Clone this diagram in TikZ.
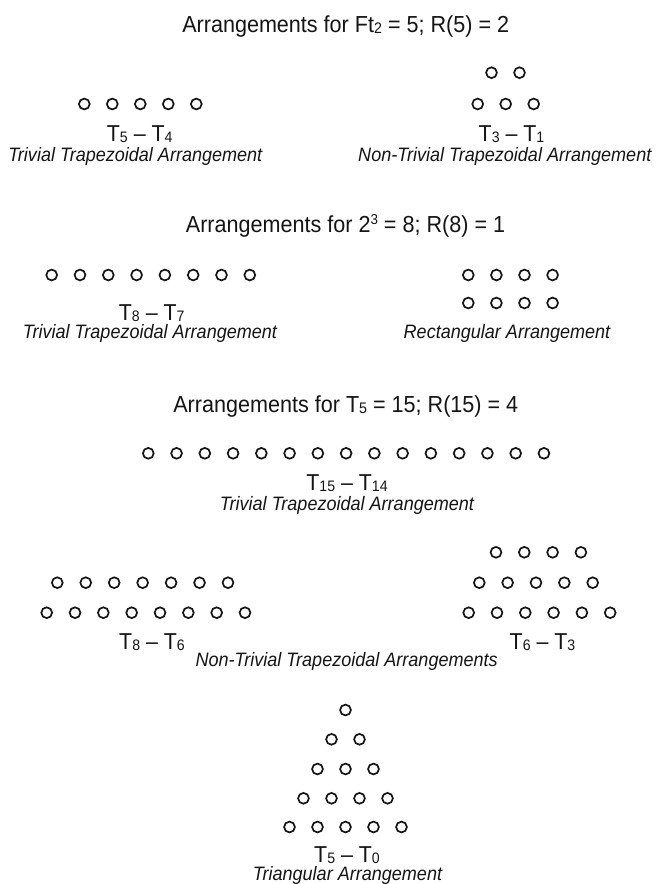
\documentclass[tikz,border=0pt]{standalone}
\usepackage{fontspec}
\setmainfont{Liberation Sans}[FakeStretch=0.93]
\definecolor{ink}{HTML}{151515}
\newcommand\lowd[1]{\raisebox{-1.4pt}{\scalebox{0.66}{#1}}}
\newcommand\highd[1]{\raisebox{7.6pt}{\scalebox{0.62}{#1}}}
\begin{document}
\begin{tikzpicture}[x=1pt,y=-1pt,
  pebble/.style={circle,draw=ink,line width=1.7pt,inner sep=0pt,minimum size=10.8pt},
  ttl/.style={anchor=base,inner sep=0pt,font=\fontsize{23.2}{26}\selectfont,text=ink},
  lbl/.style={anchor=base,inner sep=0pt,font=\fontsize{23}{26}\selectfont,text=ink},
  desc/.style={anchor=base,inner sep=0pt,font=\fontsize{19.4}{22}\selectfont\itshape,text=ink}]
\fill[white] (0,0) rectangle (657,884);
\useasboundingbox (0,0) rectangle (657,884);

% ---------- Section 1 ----------
\node[ttl] (t1) at (345.7,32) {Arrangements for Ft\lowd{2} = 5; R(5) = 2};
\foreach \k in {0,...,4} \node[pebble] (sa\k) at ({84.3+28*\k},104) {};
\foreach \k in {0,1} \node[pebble] (sb\k) at ({491.5+28*\k},72.7) {};
\foreach \k in {0,...,2} \node[pebble] (sc\k) at ({477.7+28*\k},104) {};
\node[lbl] (l1a) at (139.7,141.2) {T\lowd{5} – T\lowd{4}};
\node[desc] (d1a) at (135.3,161.2) {Trivial Trapezoidal Arrangement};
\node[lbl] (l1b) at (511.5,141.2) {T\lowd{3} – T\lowd{1}};
\node[desc] (d1b) at (504.8,161.2) {Non-Trivial Trapezoidal Arrangement};

% ---------- Section 2 ----------
\node[ttl] (t2) at (345.5,232.3) {Arrangements for 2\highd{3} = 8; R(8) = 1};
\foreach \k in {0,...,7} \node[pebble] (ea\k) at ({51.7+28.3*\k},275) {};
\foreach \k in {0,...,3} \node[pebble] (eb\k) at ({468.3+28.1*\k},275) {};
\foreach \k in {0,...,3} \node[pebble] (ec\k) at ({468.3+28.1*\k},303) {};
\node[lbl] (l2a) at (151.7,320) {T\lowd{8} – T\lowd{7}};
\node[desc] (d2a) at (150,338.4) {Trivial Trapezoidal Arrangement};
\node[desc] (d2b) at (507,338.4) {Rectangular Arrangement};

% ---------- Section 3 ----------
\node[ttl] (t3) at (345.8,412) {Arrangements for T\lowd{5} = 15; R(15) = 4};
\foreach \k in {0,...,14} \node[pebble] (fa\k) at ({148.3+28.26*\k},453.3) {};
\node[lbl] (l3a) at (347,490.2) {T\lowd{15} – T\lowd{14}};
\node[desc] (d3a) at (347,510.7) {Trivial Trapezoidal Arrangement};

\foreach \k in {0,...,6} \node[pebble] (ga\k) at ({57.3+28.45*\k},582.7) {};
\foreach \k in {0,...,7} \node[pebble] (gb\k) at ({46.7+28.33*\k},612.7) {};
\foreach \k in {0,...,3} \node[pebble] (ha\k) at ({496+28.3*\k},552.3) {};
\foreach \k in {0,...,4} \node[pebble] (hb\k) at ({479.3+28.35*\k},582.7) {};
\foreach \k in {0,...,5} \node[pebble] (hc\k) at ({468.7+28.3*\k},612.7) {};
\node[lbl] (l3b) at (152,649) {T\lowd{8} – T\lowd{6}};
\node[lbl] (l3c) at (542.5,649) {T\lowd{6} – T\lowd{3}};
\node[desc] (d3b) at (346.7,666.5) {Non-Trivial Trapezoidal Arrangements};

% ---------- Triangle ----------
\foreach \r/\yy in {1/710,2/739.3,3/769,4/798.3,5/827}
  \foreach \j in {1,...,\r}
    \node[pebble] (tr\r-\j) at ({345.5+28*(\j-(\r+1)/2)},\yy) {};
\node[lbl] (l4) at (347,862.3) {T\lowd{5} – T\lowd{0}};
\node[desc] (d4) at (347.5,880.7) {Triangular Arrangement};
\end{tikzpicture}
\end{document}
